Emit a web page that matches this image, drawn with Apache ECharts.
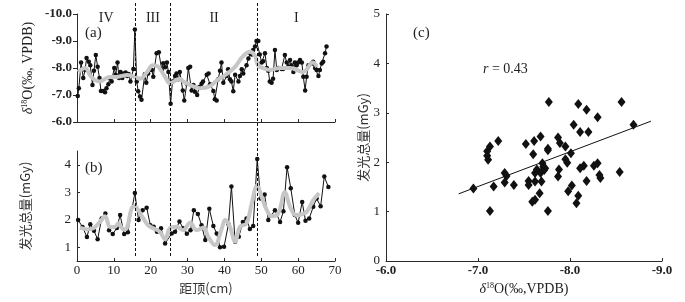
<!DOCTYPE html>
<html><head><meta charset="utf-8">
<script src="https://cdn.jsdelivr.net/npm/echarts@6/dist/echarts.min.js"></script>
<style>html,body{margin:0;padding:0;background:#fff}#c{width:685px;height:302px}</style>
</head><body><div id="c"></div>
<script>
// Panel (a): δ18O raw series
const depthA = [0.2,0.5,1.1,1.7,2.2,2.6,3.2,3.6,4.2,4.6,5.1,5.6,6.1,6.5,7.1,7.6,8.0,8.5,8.9,9.4,10.1,10.5,11.0,11.4,11.8,12.3,12.7,13.2,13.6,14.0,14.5,15.3,15.7,16.2,16.6,17.1,17.5,18.4,18.8,19.3,20.3,20.7,21.6,22.2,23.0,23.4,23.9,24.4,24.8,25.4,25.9,26.6,27.0,27.5,27.9,28.7,29.1,29.8,30.2,30.7,31.1,31.6,32.0,32.6,33.2,33.8,34.2,35.2,35.7,36.1,37.0,37.4,37.9,38.3,38.8,39.2,39.7,40.6,41.0,41.5,41.9,42.4,42.9,43.8,44.2,44.7,45.1,46.0,46.5,47.0,47.4,47.8,48.3,48.7,49.2,49.6,50.1,50.5,51.0,51.5,51.9,52.3,52.8,53.2,53.7,54.2,54.6,55.5,55.9,56.4,56.9,57.3,57.8,58.2,58.7,59.1,59.6,60.0,60.5,61.0,61.4,61.9,62.3,62.8,63.7,64.1,64.6,65.0,65.5,65.9,66.4,66.8,67.3,67.7];
const d18O = [-6.96,-7.25,-8.2,-7.63,-7.93,-8.37,-8.23,-8.1,-7.37,-7.9,-8.48,-8.05,-7.63,-7.15,-7.15,-7.1,-7.25,-7.4,-7.63,-7.5,-8.0,-7.75,-8.2,-7.63,-7.85,-7.63,-7.8,-7.83,-7.7,-7.78,-7.5,-7.96,-9.43,-7.5,-7.14,-6.94,-6.82,-7.77,-7.45,-7.8,-7.93,-7.68,-8.55,-8.58,-7.93,-8.18,-8.03,-8.2,-7.85,-6.68,-7.5,-7.7,-7.8,-7.58,-7.85,-7.17,-6.8,-7.42,-8.0,-8.05,-7.17,-7.37,-7.12,-7.0,-7.3,-7.42,-7.5,-7.75,-7.8,-7.4,-7.15,-6.84,-6.8,-7.58,-7.9,-8.2,-7.45,-7.7,-7.95,-7.58,-7.5,-7.14,-7.75,-7.5,-7.7,-7.95,-7.8,-8.1,-8.35,-8.55,-8.5,-8.67,-8.8,-9.0,-9.0,-8.5,-8.2,-8.25,-8.55,-8.0,-7.9,-7.5,-7.45,-7.6,-8.67,-7.93,-8.0,-7.96,-7.96,-8.48,-8.2,-8.05,-8.3,-8.1,-7.85,-8.2,-8.1,-8.2,-8.3,-8.2,-7.68,-7.17,-7.68,-8.1,-8.17,-8.23,-8.0,-7.93,-7.7,-7.93,-8.17,-8.23,-8.55,-8.8];
// Panel (a): smoothed curve
const depthAS = [0.3,2.2,3.5,4.9,6.2,7.6,9.0,10.9,13.6,15.7,17.1,19.0,20.6,22.0,23.9,25.2,27.9,28.8,30.7,33.4,36.1,38.0,40.2,42.9,44.8,46.9,48.3,49.1,50.5,52.4,55.1,57.8,61.3,64.0,65.1];
const d18OSmooth = [-7.85,-8.0,-7.74,-7.55,-7.5,-7.6,-7.67,-7.67,-7.74,-7.67,-7.6,-7.85,-8.1,-8.05,-7.67,-7.44,-7.6,-7.5,-7.37,-7.25,-7.33,-7.55,-7.74,-8.04,-8.4,-8.6,-8.45,-8.1,-8.0,-7.93,-8.0,-8.0,-7.85,-8.2,-8.04];
// Panel (b): total luminescence raw series
const depthB = [0.3,1.5,2.7,3.6,4.6,5.6,6.7,7.7,8.7,9.7,10.8,11.7,12.8,13.8,15.7,16.7,17.8,18.9,19.9,20.8,21.7,22.8,23.9,25.7,26.6,27.8,28.8,29.8,30.8,31.7,32.8,33.8,34.8,35.9,37.0,37.9,38.8,39.9,41.1,41.9,42.9,43.9,45.0,46.0,46.9,47.8,48.9,49.8,50.9,51.9,53.7,55.1,56.0,57.0,58.0,59.1,60.0,61.1,62.0,63.0,64.1,65.0,66.1,67.1,68.2];
const lum = [1.99,1.74,1.37,1.84,1.6,1.29,2.05,2.23,1.62,1.48,1.7,2.17,1.48,1.55,2.97,1.99,2.35,2.44,1.8,1.75,1.56,1.69,1.14,1.5,1.56,1.94,1.69,1.49,1.62,2.35,2.21,1.8,1.26,2.4,1.77,1.5,1.0,1.02,1.84,3.21,1.2,1.38,1.92,2.05,1.66,1.77,4.21,2.77,2.92,1.99,2.35,1.92,2.31,3.91,3.15,2.17,1.89,2.65,1.96,2.05,2.47,2.77,2.49,3.57,3.19];
// Panel (b): smoothed curve
const depthBS = [0.8,2.8,4.4,6.2,7.6,9.0,10.3,11.2,12.6,13.5,14.8,15.7,16.6,18.0,19.3,20.7,22.5,23.9,25.2,27.0,28.8,30.7,32.5,34.3,35.6,37.4,39.3,40.2,41.5,42.9,44.2,46.0,47.4,48.9,50.1,51.5,52.8,54.6,56.4,57.8,59.4,61.0,62.3,64.1,65.7];
const lumSmooth = [1.71,1.65,1.69,1.92,2.13,1.74,1.74,1.87,1.65,1.69,2.41,2.49,2.35,2.05,1.8,1.69,1.56,1.29,1.69,1.75,1.62,1.89,1.62,1.72,1.38,1.08,1.69,1.99,1.74,1.2,1.74,1.87,2.59,3.25,2.83,2.35,2.13,2.23,3.0,2.47,2.17,2.2,2.28,2.71,2.97];
// Panel (c): scatter
const scatterX = [-7.13,-7.22,-7.52,-7.61,-7.68,-7.77,-7.76,-7.87,-7.89,-7.95,-8.04,-8.09,-8.11,-8.18,-8.2,-8.3,-8.56,-8.69,-7.1,-7.1,-7.11,-7.13,-6.95,-7.17,-7.29,-7.31,-7.29,-7.39,-7.55,-7.55,-7.6,-7.62,-7.62,-7.64,-7.68,-7.69,-7.67,-7.59,-7.62,-7.7,-7.71,-7.73,-7.72,-7.76,-7.76,-7.88,-7.87,-7.95,-7.97,-8.01,-8.02,-7.98,-8.09,-8.07,-8.11,-8.15,-8.18,-8.26,-8.3,-8.32,-8.33,-8.54];
const scatterY = [2.32,2.43,2.37,2.43,2.52,3.22,2.27,2.5,2.39,2.32,2.76,3.18,2.61,3.06,2.61,2.91,3.22,2.76,2.22,2.13,2.05,1.01,1.47,1.51,1.78,1.72,1.59,1.54,1.62,1.54,2.16,1.78,1.61,1.85,1.78,1.61,1.37,1.2,1.24,1.98,1.91,1.88,1.84,2.24,1.01,1.85,1.71,2.06,1.99,2.18,1.53,1.41,1.32,1.17,1.88,1.93,1.62,1.93,1.98,1.74,1.68,1.8];
const fitX = [-6.79, -8.88];
const fitY = [1.36, 2.83];
// Zones
const zoneEdges = [0, 15.8, 25.4, 49.0, 70];
const zoneNames = ['IV', 'III', 'II', 'I'];
const boundaryDepths = [15.8, 25.4, 49.0];
const lumTicks = [1, 2, 3, 4];
const rValue = 'r = 0.43';

const zip = (a, b) => a.map((v, i) => [v, b[i]]);
const SERIF = '"Liberation Serif","DejaVu Serif",serif';
const CJK = '"Noto Sans CJK SC",sans-serif';
const AX = '#2a2a2a';
const axisLine = {show: true, lineStyle: {color: AX, width: 1}};

const chart = echarts.init(document.getElementById('c'), null, {renderer: 'canvas'});
const dRich = {
  d: {fontFamily: SERIF, fontSize: 14, color: '#222', fontStyle: 'italic'},
  s: {fontFamily: SERIF, fontSize: 8, color: '#222', verticalAlign: 'top', lineHeight: 12},
  a: {fontFamily: SERIF, fontSize: 14, color: '#222'}
};
chart.setOption({
  animation: false,
  backgroundColor: '#fff',
  grid: [
    {left: 77, right: 350, top: 14, bottom: 180},
    {left: 77, right: 350, top: 151, bottom: 41},
    {left: 77, right: 350, top: 2, bottom: 46},
    {left: 386, right: 23, top: 14, bottom: 41}
  ],
  xAxis: [
    {gridIndex: 0, type: 'value', min: 0, max: 70, interval: 10, axisLine,
     axisTick: {show: true, inside: true, length: 3, lineStyle: {color: AX}},
     axisLabel: {show: false}, splitLine: {show: false}},
    {gridIndex: 1, type: 'value', min: 0, max: 70, interval: 10, axisLine,
     axisTick: {show: true, inside: true, length: 3, lineStyle: {color: AX}},
     axisLabel: {fontFamily: SERIF, fontSize: 13, color: '#222', margin: 3},
     splitLine: {show: false},
     name: '距顶(cm)', nameLocation: 'middle', nameGap: 21,
     nameTextStyle: {fontFamily: CJK, fontSize: 13, color: '#333'}},
    {gridIndex: 2, type: 'value', min: 0, max: 70, show: false},
    {gridIndex: 3, type: 'value', min: -9, max: -6, interval: 1, inverse: true, axisLine,
     axisTick: {show: true, inside: true, length: 3, lineStyle: {color: AX}},
     axisLabel: {fontFamily: SERIF, fontSize: 13, fontWeight: 'bold', color: '#222', margin: 3,
                 formatter: v => v.toFixed(1)},
     splitLine: {show: false},
     name: '{d|δ}{s|18}{a|O(‰,VPDB)}', nameLocation: 'middle', nameGap: 18,
     nameTextStyle: {rich: dRich}}
  ],
  yAxis: [
    {gridIndex: 0, type: 'value', min: -10, max: -6, interval: 1, inverse: true, axisLine,
     axisTick: {show: true, inside: false, length: 4, lineStyle: {color: AX}},
     axisLabel: {fontFamily: SERIF, fontSize: 13, fontWeight: 'bold', color: '#222', margin: 5,
                 formatter: v => v.toFixed(1)},
     splitLine: {show: false},
     name: '{d|δ}{s|18}{a|O(‰, VPDB)}', nameLocation: 'middle', nameGap: 42,
     nameTextStyle: {rich: dRich}},
    {gridIndex: 1, type: 'value', min: 0.5, max: 4.5, axisLine,
     axisTick: {show: true, inside: true, length: 3, customValues: lumTicks, lineStyle: {color: AX}},
     axisLabel: {fontFamily: SERIF, fontSize: 13, color: '#222', margin: 6, customValues: lumTicks},
     splitLine: {show: false},
     name: '发光总量(mGy)', nameLocation: 'middle', nameGap: 45,
     nameTextStyle: {fontFamily: CJK, fontSize: 13, color: '#333'}},
    {gridIndex: 2, type: 'value', min: 0, max: 1, show: false},
    {gridIndex: 3, type: 'value', min: 0, max: 5, interval: 1, axisLine,
     axisTick: {show: true, inside: true, length: 3, lineStyle: {color: AX}},
     axisLabel: {fontFamily: SERIF, fontSize: 13, color: '#222', margin: 6},
     splitLine: {show: false},
     name: '发光总量(mGy)', nameLocation: 'middle', nameGap: 14,
     nameTextStyle: {fontFamily: CJK, fontSize: 13, color: '#333'}}
  ],
  series: [
    {type: 'line', xAxisIndex: 2, yAxisIndex: 2, data: [], silent: true,
     markLine: {silent: true, symbol: ['none', 'none'], label: {show: false},
                lineStyle: {type: [3, 2], color: '#111', width: 1},
                data: boundaryDepths.map(v => ({xAxis: v}))},
     markArea: {silent: true, itemStyle: {color: 'rgba(0,0,0,0)'},
                label: {show: true, position: 'insideTop', distance: 9,
                        fontFamily: SERIF, fontSize: 14, color: '#222'},
                data: zoneNames.map((n, i) => [{xAxis: zoneEdges[i], name: n}, {xAxis: zoneEdges[i + 1]}])}},
    {type: 'line', xAxisIndex: 0, yAxisIndex: 0, data: zip(depthA, d18O),
     symbol: 'circle', symbolSize: 4.5, lineStyle: {color: '#111', width: 1}, itemStyle: {color: '#111'}, z: 3},
    {type: 'line', xAxisIndex: 0, yAxisIndex: 0, data: zip(depthAS, d18OSmooth), smooth: 0.4,
     symbol: 'none', lineStyle: {color: '#c6c6c6', width: 4}, z: 4},
    {type: 'line', xAxisIndex: 1, yAxisIndex: 1, data: zip(depthB, lum),
     symbol: 'circle', symbolSize: 4.5, lineStyle: {color: '#111', width: 1}, itemStyle: {color: '#111'}, z: 3},
    {type: 'line', xAxisIndex: 1, yAxisIndex: 1, data: zip(depthBS, lumSmooth), smooth: 0.4,
     symbol: 'none', lineStyle: {color: '#c6c6c6', width: 4}, z: 4},
    {type: 'line', xAxisIndex: 3, yAxisIndex: 3, data: zip(fitX, fitY),
     symbol: 'none', lineStyle: {color: '#111', width: 1}, z: 3},
    {type: 'scatter', xAxisIndex: 3, yAxisIndex: 3, data: zip(scatterX, scatterY),
     symbol: 'diamond', symbolSize: [8, 10], itemStyle: {color: '#111', opacity: 1}, z: 4}
  ],
  graphic: [
    {type: 'text', x: 85, y: 33, style: {text: '(a)', font: '15px ' + SERIF, fill: '#222', verticalAlign: 'middle'}},
    {type: 'text', x: 85, y: 168, style: {text: '(b)', font: '15px ' + SERIF, fill: '#222', verticalAlign: 'middle'}},
    {type: 'text', x: 413, y: 33, style: {text: '(c)', font: '15px ' + SERIF, fill: '#222', verticalAlign: 'middle'}},
    {type: 'text', x: 483, y: 69, style: {text: '{i|r}{n|' + rValue.slice(1) + '}', verticalAlign: 'middle',
      rich: {i: {fontFamily: SERIF, fontSize: 14, fontStyle: 'italic', fill: '#222', color: '#222'},
             n: {fontFamily: SERIF, fontSize: 14, fill: '#222', color: '#222'}}}}
  ]
});
</script></body></html>
